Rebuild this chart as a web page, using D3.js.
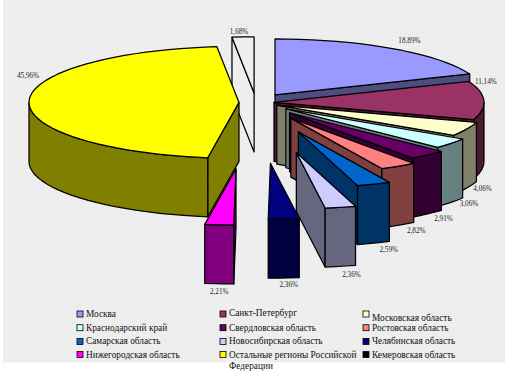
<!DOCTYPE html>
<html><head><meta charset="utf-8">
<script src="https://cdn.jsdelivr.net/npm/d3@7"></script>
<style>html,body{margin:0;padding:0;background:#fff}svg{display:block}</style>
</head><body><svg id="c" width="505" height="382"></svg>
<script>
const regions=["Москва","Санкт-Петербург","Московская область","Краснодарский край","Свердловская область","Ростовская область","Самарская область","Новосибирская область","Челябинская область","Нижегородская область","Остальные регионы Российской Федерации","Кемеровская область"];
const shares=[18.89,11.14,4.06,3.06,2.91,2.82,2.59,2.36,2.36,2.21,45.96,1.68];
const colors=["#9999ff","#993366","#ffffcc","#ccffff","#660066","#ff8080","#0066cc","#ccccff","#000080","#ff00ff","#ffff00","#000000"];
const explosion=[34,18,23,38,51,68,118,192,228,250,17,36];
const labelNudgeX=[17,2,16,18,16,18,15,11,5,0,-1,-4];
const labelNudgeY=[-8,-19,0,1,5,5,6,8,6,8,-26,-5];
const noFaceSeries=["Кемеровская область"];
const legendRowsY=[314,327.7,341.4,354.5];
const legendTextNudge=[0,-1,4,0,0,0,0,0,0,0,0,0];

const W=505,H=382,cx=256,cy=102.5,rx=210,ry=56,depth=59,bgColor="#eeeeee";
const svg=d3.select("#c");
const defs=svg.append("defs");
const pat=defs.append("pattern").attr("id","dither").attr("width",2).attr("height",2).attr("patternUnits","userSpaceOnUse");
pat.append("rect").attr("width",2).attr("height",2).attr("fill","#f1f1f1");
pat.append("rect").attr("width",1).attr("height",1).attr("fill","#e8e8e8");
pat.append("rect").attr("x",1).attr("y",1).attr("width",1).attr("height",1).attr("fill","#ececec");
svg.append("rect").attr("x",3).attr("y",0).attr("width",W-3).attr("height",362.5).attr("fill","url(#dither)");

const pie=d3.pie().sort(null).value(d=>d)(shares);
const px=d3.scaleLinear().domain([-1,1]).range([-rx,rx]);
const py=d3.scaleLinear().domain([-1,1]).range([-ry,ry]);
const line=d3.line().x(d=>d[0]).y(d=>d[1]);
const pieces=pie.map((p,i)=>{
  const m=(p.startAngle+p.endAngle)/2;
  const ax=cx+explosion[i]*Math.sin(m), ay=cy-explosion[i]*Math.cos(m)*ry/rx;
  const at=t=>[ax+px(Math.sin(t)),ay+py(-Math.cos(t))];
  return {i,m,ax,ay,at,a0:p.startAngle,a1:p.endAngle};
});
const rimSamples=(a,b)=>{const n=Math.max(2,Math.ceil((b-a)/0.06));return d3.range(n+1).map(k=>a+(b-a)*k/n);};
const drawOrder=[11,0,1,2,3,4,5,6,7,10,9,8];
const g=svg.append("g").attr("stroke","#000").attr("stroke-width",1.25).attr("stroke-linejoin","round");
const down=p=>[p[0],p[1]+depth];
drawOrder.forEach(i=>{
  const s=pieces[i],noFace=noFaceSeries.includes(regions[i]);
  const face=noFace?bgColor:colors[i];
  const c=d3.rgb(face);
  const wall=noFace?bgColor:d3.rgb(c.r/2,c.g/2,c.b/2).formatHex();
  const apex=[s.ax,s.ay];
  const quad=t=>{const o=s.at(t);return [apex,o,down(o),down(apex)];};
  if(Math.sin(s.a0)<-1e-3) g.append("path").attr("d",line(quad(s.a0))+"Z").attr("fill",wall);
  if(Math.sin(s.a1)>1e-3) g.append("path").attr("d",line(quad(s.a1))+"Z").attr("fill",wall);
  const lo=Math.max(s.a0,Math.PI/2),hi=Math.min(s.a1,3*Math.PI/2);
  if(hi>lo){
    const top=rimSamples(lo,hi).map(s.at);
    g.append("path").attr("d",line(top.concat(top.map(down).reverse()))+"Z").attr("fill",wall);
  }
  const rim=rimSamples(s.a0,s.a1).map(s.at);
  g.append("path").attr("d",line([apex].concat(rim))+"Z").attr("fill",face);
});

const fmt=v=>v.toFixed(2).replace(".",",")+"%";
svg.append("g").selectAll("text").data(pieces).join("text")
  .attr("x",s=>s.at(s.m)[0]+labelNudgeX[s.i])
  .attr("y",s=>s.at(s.m)[1]+(Math.cos(s.m)<0?depth:0)+labelNudgeY[s.i]+2.5)
  .attr("text-anchor","middle").attr("font-family","Liberation Serif").attr("font-size",7.2).attr("fill","#222")
  .text(s=>fmt(shares[s.i]));

const colX=d3.scalePoint().domain([0,1,2]).range([77,363]);
const leg=svg.append("g").selectAll("g").data(regions).join("g")
  .attr("transform",(d,i)=>`translate(${colX(i%3)},${legendRowsY[Math.floor(i/3)]})`);
leg.append("rect").attr("x",0).attr("y",-3).attr("width",6).attr("height",6).attr("fill",(d,i)=>colors[i]).attr("stroke","#000").attr("stroke-width",.8);
leg.each(function(d,i){
  const t=d3.select(this).append("text").attr("x",9).attr("y",3+legendTextNudge[i]).attr("font-family","Liberation Serif").attr("font-size",9.3).attr("fill","#111");
  const parts=d==="Остальные регионы Российской Федерации"?["Остальные регионы Российской","Федерации"]:[d];
  parts.forEach((p,k)=>t.append("tspan").attr("x",9).attr("dy",k?11:0).text(p));
});
</script></body></html>
